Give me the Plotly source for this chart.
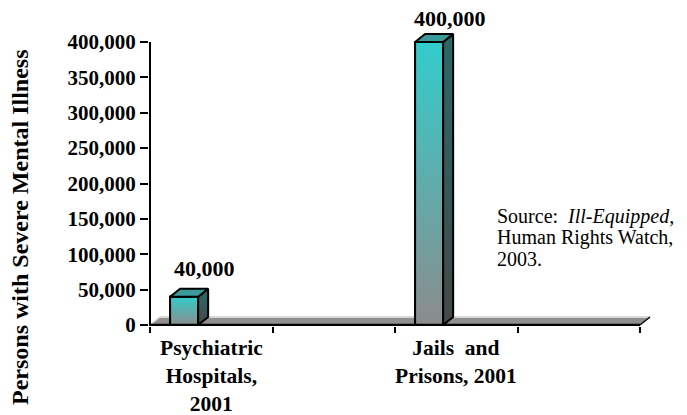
import plotly.graph_objects as go

# ---- data ----
categories = ["Psychiatric<br>Hospitals,<br>2001", "Jails  and<br>Prisons, 2001"]
values = [40000, 400000]
y_ticks = [0, 50000, 100000, 150000, 200000, 250000, 300000, 350000, 400000]
y_title = "Persons with Severe Mental Illness"
source_lines = ["Source:  <i>Ill-Equipped</i>,", "Human Rights Watch,", "2003."]

# ---- geometry / style ----
FONT = "Liberation Serif"
W, H = 687, 415
L, R, T, B = 149, 35, 33, 89
PX_X = 122.5             # pixels per x unit
PX_Y = 283 / 400000      # pixels per y unit
DX = 10 / PX_X           # 3D depth in x
DY = 8 / PX_Y            # 3D depth in y
BAR_W = 0.229
BAR_OFF = 0.164
SLOT = 2                 # each category occupies two tick slots
N_SLOTS = SLOT * len(categories)
X0 = -1 / PX_X           # x range start (1px left of axis)

front_scale = [[0, "#8c8c8c"], [1, "#33cccc"]]
side_scale = [[0, "#444848"], [1, "#2a6868"]]
top_color = "#3a9a9a"

fig = go.Figure()

for i, (cat, v) in enumerate(zip(categories, values)):
    x0 = SLOT * i + BAR_OFF
    x1 = x0 + BAR_W
    # data-bearing bar (front face)
    fig.add_trace(go.Bar(x=[(x0 + x1) / 2], y=[v], width=BAR_W,
                         marker=dict(color="#5fb3b3", line=dict(color="black", width=2)),
                         hoverinfo="skip", showlegend=False))
    # gradient front face overlay
    fig.add_trace(go.Scatter(x=[x0, x1, x1, x0, x0], y=[0, 0, v, v, 0], mode="lines",
                             fill="toself",
                             fillgradient=dict(type="vertical", colorscale=front_scale),
                             line=dict(color="black", width=2),
                             hoverinfo="skip", showlegend=False))
    # side face
    fig.add_trace(go.Scatter(x=[x1, x1 + DX, x1 + DX, x1, x1],
                             y=[0, DY, v + DY, v, 0], mode="lines", fill="toself",
                             fillgradient=dict(type="vertical", colorscale=side_scale),
                             line=dict(color="black", width=2),
                             hoverinfo="skip", showlegend=False))
    # top face
    fig.add_trace(go.Scatter(x=[x0, x1, x1 + DX, x0 + DX, x0],
                             y=[v, v, v + DY, v + DY, v], mode="lines", fill="toself",
                             fillcolor=top_color, line=dict(color="black", width=2),
                             hoverinfo="skip", showlegend=False))

# floor + axis lines
shapes = [
    dict(type="path", xref="x", yref="y", layer="below",
         path=f"M 0,0 L {N_SLOTS},0 L {N_SLOTS + DX},{DY} L {DX},{DY} Z",
         fillcolor="#8f8f8f", line=dict(width=0)),
    dict(type="line", xref="x", yref="y", layer="below",
         x0=DX, y0=DY, x1=N_SLOTS + DX, y1=DY, line=dict(color="#d8d8d8", width=2)),
    dict(type="line", xref="x", yref="y", layer="below",
         x0=0, y0=0, x1=DX, y1=DY, line=dict(color="#d0d0d0", width=1.5)),
    dict(type="line", xref="x", yref="y", layer="above",
         x0=0, y0=0, x1=N_SLOTS, y1=0, line=dict(color="black", width=2.5)),
    dict(type="line", xref="x", yref="y", layer="above",
         x0=N_SLOTS, y0=0, x1=N_SLOTS + DX, y1=DY, line=dict(color="black", width=1.5)),
    dict(type="line", xref="x", yref="y", layer="above",
         x0=0, y0=-2 / PX_Y, x1=0, y1=y_ticks[-1], line=dict(color="black", width=2)),
]

annotations = []
label_shift = [14, 9]
for i, (cat, v) in enumerate(zip(categories, values)):
    x0 = SLOT * i + BAR_OFF
    annotations.append(dict(x=x0 + BAR_W / 2 + 0.17, y=v, xref="x", yref="y",
                            text=f"{v:,}", showarrow=False, xanchor="center",
                            yanchor="bottom", yshift=label_shift[i],
                            font=dict(family=FONT, size=22, color="black", weight="bold")))
    annotations.append(dict(x=SLOT * i + 0.5, y=0, xref="x", yref="y",
                            text=cat, showarrow=False, xanchor="center", yanchor="top",
                            yshift=-9, align="center",
                            font=dict(family=FONT, size=21.5, color="black", weight="bold")))

paper_ann = [dict(x=20, y=227, text=y_title, textangle=-90, xanchor="center",
                  font=dict(family=FONT, size=24, color="black", weight="bold"))]
for j, line in enumerate(source_lines):
    paper_ann.append(dict(x=495, y=216 + 21.5 * j, text=line, xanchor="left",
                          font=dict(family=FONT, size=20, color="black")))
for a in paper_ann:
    a.update(xref="paper", yref="paper", showarrow=False, yanchor="middle",
             x=(a["x"] - L) / (W - L - R),
             y=((H - a["y"]) - B) / (H - T - B))
    annotations.append(a)

fig.update_layout(
    width=W, height=H,
    margin=dict(l=L, r=R, t=T, b=B),
    paper_bgcolor="white", plot_bgcolor="white",
    shapes=shapes, annotations=annotations, showlegend=False,
    xaxis=dict(range=[X0, X0 + (W - L - R) / PX_X], showgrid=False, zeroline=False,
               showline=False, tickvals=list(range(N_SLOTS + 1)),
               ticktext=[""] * (N_SLOTS + 1), ticks="outside", ticklen=6,
               tickwidth=2, tickcolor="black"),
    yaxis=dict(range=[-1 / PX_Y, 400000 + 9 / PX_Y], showgrid=False, zeroline=False,
               showline=False,
               tickvals=y_ticks, tickformat=",", ticks="outside", ticklen=8,
               tickwidth=2, tickcolor="black",
               tickfont=dict(family=FONT, size=21, color="black", weight="bold")),
)

fig.write_html("out.html")
